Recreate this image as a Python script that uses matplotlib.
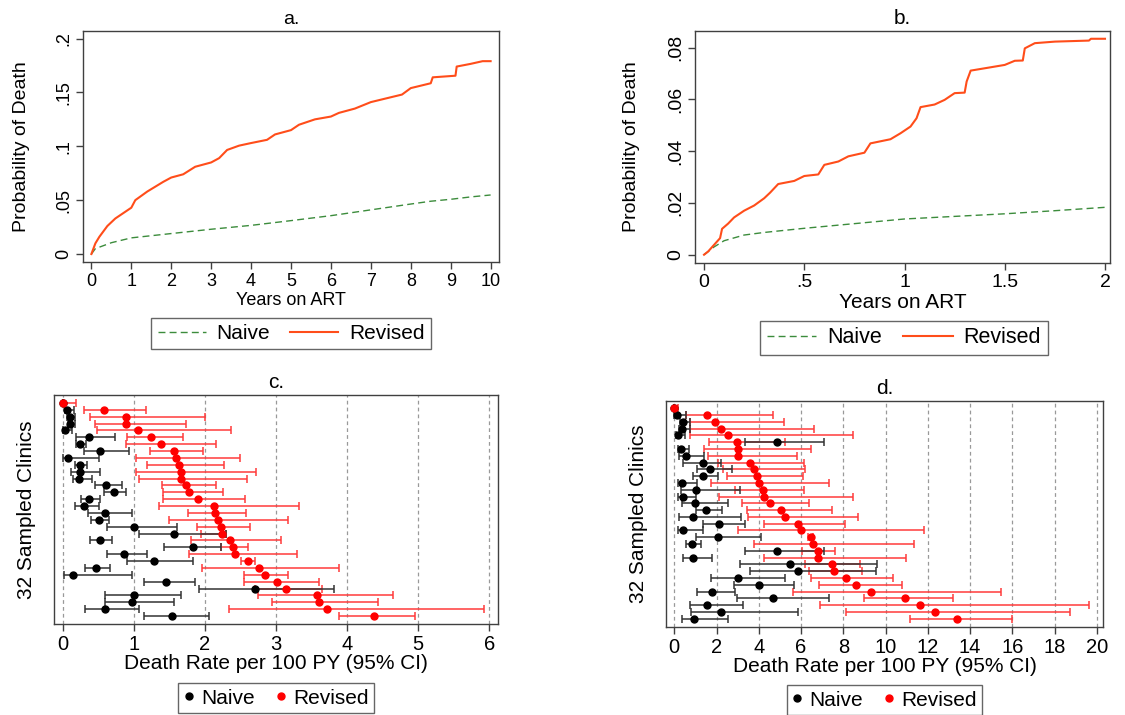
import numpy as np
import matplotlib
matplotlib.use("Agg")
import matplotlib.pyplot as plt
from matplotlib.lines import Line2D

plt.rcParams['font.family'] = ['Liberation Sans', 'DejaVu Sans']

# ---- panel a: cumulative probability of death, 10 years
a_rev_t = [0, 0.1, 0.2, 0.4, 0.6, 0.8, 1.0, 1.1, 1.4, 1.6, 1.8, 2.0, 2.3, 2.6, 3.0, 3.2, 3.4,
           3.7, 4.0, 4.4, 4.6, 5.0, 5.2, 5.6, 6.0, 6.2, 6.6, 7.0, 7.5, 7.78, 8.0, 8.5, 8.55,
           9.12, 9.15, 9.5, 9.8, 10.0]
a_rev_p = [0, 0.0099, 0.016, 0.026, 0.033, 0.038, 0.043, 0.050, 0.058, 0.0625, 0.067, 0.071,
           0.074, 0.081, 0.085, 0.089, 0.0966, 0.1006, 0.103, 0.106, 0.111, 0.115, 0.120, 0.125,
           0.1276, 0.131, 0.135, 0.141, 0.1455, 0.148, 0.154, 0.1585, 0.164, 0.1655, 0.174,
           0.1765, 0.179, 0.179]
a_nai_t = [0, 0.1, 0.5, 1, 2, 3, 4, 5, 6, 7, 8, 8.5, 9, 9.5, 10]
a_nai_p = [0, 0.005, 0.0105, 0.015, 0.019, 0.023, 0.0266, 0.031, 0.0356, 0.041, 0.0464, 0.049,
           0.0508, 0.053, 0.0548]

# ---- panel b: cumulative probability of death, 2 years
b_rev_t = [0, 0.02, 0.08, 0.09, 0.12, 0.15, 0.2, 0.25, 0.3, 0.33, 0.37, 0.45, 0.5, 0.57, 0.6,
           0.67, 0.72, 0.8, 0.83, 0.93, 0.98, 1.03, 1.06, 1.08, 1.15, 1.2, 1.25, 1.3, 1.31, 1.33,
           1.4, 1.5, 1.55, 1.59, 1.6, 1.65, 1.75, 1.92, 1.93, 2.0]
b_rev_p = [0, 0.0012, 0.0064, 0.010, 0.012, 0.0144, 0.017, 0.019, 0.0218, 0.024, 0.0273, 0.0285,
           0.0304, 0.031, 0.0347, 0.036, 0.038, 0.0394, 0.043, 0.0446, 0.0469, 0.0495, 0.0527,
           0.057, 0.058, 0.0598, 0.0624, 0.0626, 0.0669, 0.0711, 0.072, 0.0733, 0.0749, 0.075,
           0.0797, 0.0817, 0.0823, 0.0827, 0.0834, 0.0834]
b_nai_t = [0, 0.05, 0.1, 0.2, 0.3, 0.5, 0.75, 1.0, 1.25, 1.5, 1.75, 2.0]
b_nai_p = [0, 0.003, 0.0054, 0.0076, 0.0086, 0.0102, 0.012, 0.0138, 0.0148, 0.0158, 0.017, 0.0183]

# ---- panel c: death rate per 100 PY by clinic (top row first)
c_nai = [0.0, 0.06, 0.10, 0.11, 0.04, 0.37, 0.25, 0.52, 0.08, 0.24, 0.25, 0.23, 0.61, 0.72, 0.37, 0.30,
         0.59, 0.51, 1.01, 1.56, 0.53, 1.83, 0.86, 1.29, 0.47, 0.14, 1.46, 2.71, 1.00, 0.97, 0.59, 1.54]
c_nai_lo = [0.0, 0.03, 0.06, 0.07, 0.01, 0.19, 0.19, 0.30, 0.01, 0.17, 0.12, 0.14, 0.45, 0.58, 0.26, 0.18,
            0.36, 0.40, 0.63, 1.07, 0.39, 1.42, 0.63, 0.91, 0.32, 0.02, 1.15, 1.92, 0.59, 0.60, 0.32, 1.15]
c_nai_hi = [0.0, 0.16, 0.17, 0.18, 0.13, 0.74, 0.33, 0.93, 0.51, 0.35, 0.52, 0.41, 0.83, 0.89, 0.53, 0.51,
            0.97, 0.65, 1.61, 2.30, 0.70, 2.22, 1.18, 1.83, 0.67, 0.98, 1.86, 3.82, 1.67, 1.56, 1.07, 2.06]
c_rev = [0.0, 0.58, 0.89, 0.89, 1.06, 1.24, 1.39, 1.56, 1.60, 1.63, 1.67, 1.67, 1.73, 1.78, 1.90, 2.13,
         2.14, 2.18, 2.22, 2.24, 2.36, 2.40, 2.43, 2.60, 2.76, 2.84, 3.02, 3.14, 3.57, 3.61, 3.71, 4.38]
c_rev_lo = [0.0, 0.30, 0.39, 0.46, 0.48, 0.90, 0.89, 1.23, 1.03, 1.18, 1.03, 1.08, 1.40, 1.41, 1.41, 1.36,
            1.77, 1.49, 1.89, 1.94, 1.81, 2.22, 1.78, 2.51, 1.96, 2.55, 2.55, 2.70, 2.75, 2.94, 2.34, 3.88]
c_rev_hi = [0.19, 1.17, 2.00, 1.73, 2.37, 1.70, 2.15, 1.98, 2.49, 2.27, 2.72, 2.59, 2.15, 2.25, 2.56, 3.33,
            2.58, 3.17, 2.63, 2.30, 3.07, 2.60, 3.29, 2.71, 3.88, 3.17, 3.60, 3.65, 4.64, 4.43, 5.92, 4.95]

# ---- panel d
d_nai = [0.0, 0.14, 0.43, 0.35, 0.20, 4.86, 0.32, 0.55, 1.34, 1.70, 1.36, 0.39, 1.01, 0.43, 0.96, 1.51,
         0.87, 2.10, 0.43, 2.05, 0.84, 4.86, 0.88, 5.46, 5.85, 3.01, 4.01, 1.77, 4.67, 1.55, 2.19, 0.95]
d_nai_lo = [0.0, 0.0, 0.27, 0.24, 0.08, 3.34, 0.19, 0.24, 0.43, 1.06, 0.90, 0.16, 0.32, 0.19, 0.36, 1.03,
            0.24, 1.34, 0.16, 1.03, 0.55, 3.34, 0.43, 3.09, 3.58, 1.75, 2.84, 1.09, 2.98, 0.74, 0.80, 0.35]
d_nai_hi = [0.0, 0.54, 0.74, 0.74, 0.50, 7.08, 0.71, 1.40, 2.19, 2.73, 2.05, 1.06, 3.11, 1.03, 2.56, 2.24,
            3.17, 3.34, 1.34, 4.12, 1.28, 7.08, 1.80, 9.59, 9.56, 5.22, 5.68, 2.89, 7.33, 3.25, 5.84, 2.56]
d_rev = [0.0, 1.53, 1.92, 2.22, 2.54, 2.97, 3.01, 3.04, 3.58, 3.79, 3.93, 3.99, 4.20, 4.23, 4.51, 5.06,
         5.24, 5.87, 5.98, 6.45, 6.55, 6.80, 6.80, 7.48, 7.57, 8.15, 8.58, 9.31, 10.90, 11.64, 12.33, 13.36]
d_rev_lo = [0.0, 0.54, 0.74, 0.74, 0.74, 1.66, 1.40, 1.61, 2.08, 2.32, 2.52, 1.74, 2.89, 2.11, 3.20, 3.42,
            3.49, 4.27, 3.01, 6.35, 3.77, 6.05, 4.23, 6.20, 6.40, 6.45, 6.84, 5.63, 9.00, 6.91, 8.15, 11.17]
d_rev_hi = [0.19, 4.65, 5.19, 6.61, 8.47, 5.24, 6.47, 5.82, 6.15, 6.20, 6.09, 7.33, 6.13, 8.44, 6.36, 7.48,
            8.68, 8.09, 11.81, 6.55, 11.36, 7.63, 10.99, 8.80, 8.90, 10.33, 10.77, 15.44, 13.20, 19.61, 18.72, 15.96]

W, H = 1125, 715
ORANGE = '#ff4d1a'
GREEN = '#3c8c3c'
FRAME = '#404040'

fig = plt.figure(figsize=(W / 100, H / 100), dpi=100)
fig.patch.set_facecolor('white')


def rect(l, t, r, b):
    return [l / W, 1 - b / H, (r - l) / W, (b - t) / H]


def style(ax, tsize):
    for s in ax.spines.values():
        s.set_color(FRAME)
        s.set_linewidth(1.0)
    ax.tick_params(direction='out', length=5, width=1, color=FRAME, labelsize=tsize, pad=3)


def km_panel(ax, rt, rp, nt, np_, title, fs):
    ax.plot(nt, np_, color=GREEN, lw=1.0, ls=(0, (5, 3)))
    ax.plot(rt, rp, color=ORANGE, lw=1.5)
    ax.set_title(title, fontsize=fs + 1, pad=5)
    style(ax, fs)


def fmt(v):
    s = ('%g' % v)
    return s[1:] if s.startswith('0.') else s


# a
axa = fig.add_axes(rect(83, 31, 499, 262))
km_panel(axa, a_rev_t, a_rev_p, a_nai_t, a_nai_p, 'a.', 13)
axa.set_xlim(-0.21, 10.21)
axa.set_ylim(-0.0074, 0.207)
axa.set_xticks(range(0, 11))
yt = [0, 0.05, 0.1, 0.15, 0.2]
axa.set_yticks(yt)
axa.set_yticklabels([fmt(v) for v in yt], rotation=90, va='center')
axa.set_xlabel('Years on ART', fontsize=13, labelpad=1)
axa.set_ylabel('Probability of Death', fontsize=14, labelpad=18)

# b
axb = fig.add_axes(rect(695, 31, 1110, 263))
km_panel(axb, b_rev_t, b_rev_p, b_nai_t, b_nai_p, 'b.', 14)
axb.set_xlim(-0.045, 2.025)
axb.set_ylim(-0.0032, 0.0864)
xt = [0, 0.5, 1, 1.5, 2]
axb.set_xticks(xt)
axb.set_xticklabels([fmt(v) for v in xt])
yt = [0, 0.02, 0.04, 0.06, 0.08]
axb.set_yticks(yt)
axb.set_yticklabels([fmt(v) for v in yt], rotation=90, va='center')
axb.set_xlabel('Years on ART', fontsize=15, labelpad=1)
axb.set_ylabel('Probability of Death', fontsize=14, labelpad=19)

km_handles = [Line2D([], [], color=GREEN, lw=1.0, ls=(0, (5, 3))),
              Line2D([], [], color=ORANGE, lw=1.5)]
for cx, cy, fs in [(291, 333.5, 15), (904, 338, 15.5)]:
    lg = fig.legend(km_handles, ['Naive', 'Revised'], loc='center',
                    bbox_to_anchor=(cx / W, 1 - cy / H), ncol=2, fontsize=fs,
                    frameon=True, fancybox=False, edgecolor=FRAME, handlelength=2.3,
                    columnspacing=1.0, borderpad=0.3, handletextpad=0.5)
    lg.get_frame().set_linewidth(1.0)


def forest(ax, nai, nlo, nhi, rev, rlo, rhi, title, ticks, xlim, ylim):
    y = np.arange(1, len(nai) + 1)
    rev = np.array(rev)
    nai = np.array(nai)
    ax.errorbar(rev, y, xerr=[rev - np.array(rlo), np.array(rhi) - rev], fmt='none',
                ecolor='#ff3b3b', elinewidth=1.1, capsize=3, capthick=1.1, zorder=2)
    ax.errorbar(nai, y, xerr=[nai - np.array(nlo), np.array(nhi) - nai], fmt='none',
                ecolor='#333333', elinewidth=1.1, capsize=3, capthick=1.1, zorder=3)
    ax.plot(nai, y, 'o', color='black', ms=5, zorder=4)
    ax.plot(rev, y, 'o', color='#ff0000', ms=5, zorder=5)
    for t in ticks:
        ax.axvline(t, color='#999999', lw=0.9, ls=(0, (3, 2.5)), zorder=1)
    ax.set_xlim(*xlim)
    ax.set_ylim(*ylim)
    ax.set_xticks(ticks)
    ax.set_yticks([])
    ax.set_title(title, fontsize=15, pad=5)
    style(ax, 14.5)
    ax.set_xlabel('Death Rate per 100 PY (95% CI)', fontsize=15, labelpad=0)
    ax.set_ylabel('32 Sampled Clinics', fontsize=15, labelpad=13)


axc = fig.add_axes(rect(54, 395, 498, 624))
forest(axc, c_nai, c_nai_lo, c_nai_hi, c_rev, c_rev_lo, c_rev_hi, 'c.',
       list(range(0, 7)), (-0.12, 6.12), (33.16, -0.16))
axd = fig.add_axes(rect(666, 401, 1103, 627))
forest(axd, d_nai, d_nai_lo, d_nai_hi, d_rev, d_rev_lo, d_rev_hi, 'd.',
       list(range(0, 21, 2)), (-0.39, 20.29), (33.22, -0.08))

dot_handles = [Line2D([], [], ls='none', marker='o', color='black', ms=5),
               Line2D([], [], ls='none', marker='o', color='#ff0000', ms=5)]
for cx, cy in [(276, 698), (884.5, 700)]:
    lg = fig.legend(dot_handles, ['Naive', 'Revised'], loc='center',
                    bbox_to_anchor=(cx / W, 1 - cy / H), ncol=2, fontsize=15,
                    frameon=True, fancybox=False, edgecolor=FRAME, handlelength=0.5,
                    columnspacing=1.0, borderpad=0.25, handletextpad=0.35)
    lg.get_frame().set_linewidth(1.0)

fig.savefig('out.png', dpi=100, facecolor='white')
